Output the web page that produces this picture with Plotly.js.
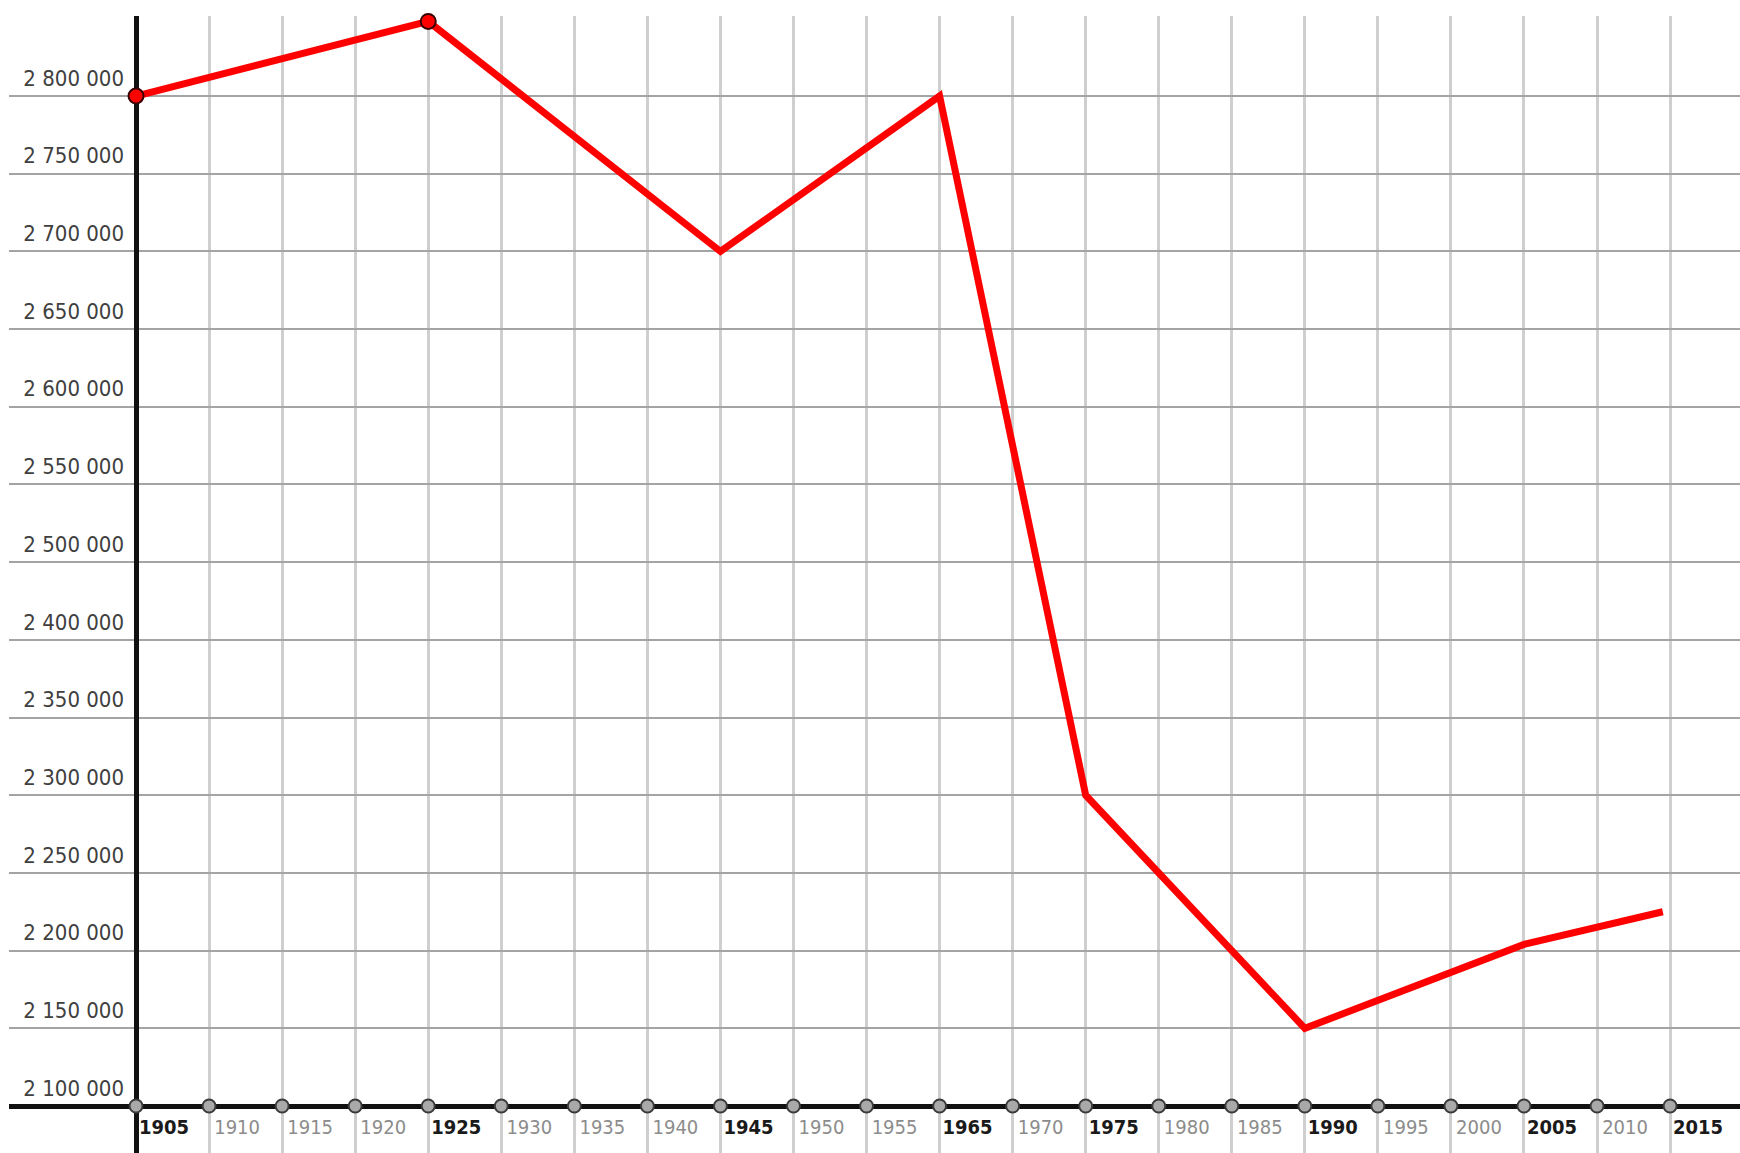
<!DOCTYPE html>
<html>
<head>
<meta charset="utf-8">
<script src="https://cdn.plot.ly/plotly-3.0.1.min.js"></script>
<style>
  html, body { margin: 0; padding: 0; background: #ffffff; }
  #chart { width: 1740px; height: 1153px; }
</style>
</head>
<body>
<div id="chart"></div>
<script>
// ---- Data ----
const years = [1905, 1925, 1945, 1965, 1975, 1990, 2005, 2014.5];
const population = [2800000, 2848000, 2700000, 2800000, 2300000, 2150000, 2204000, 2225000];
const pointMarked = [true, true, false, false, false, false, false, false];

// ---- Axis ticks ----
const xTickYears = [1905, 1910, 1915, 1920, 1925, 1930, 1935, 1940, 1945, 1950, 1955,
                    1965, 1970, 1975, 1980, 1985, 1990, 1995, 2000, 2005, 2010, 2015];
const xTickBold = [1905, 1925, 1945, 1965, 1975, 1990, 2005, 2015];
const yTickValues = [2800000, 2750000, 2700000, 2650000, 2600000, 2550000, 2500000,
                     2400000, 2350000, 2300000, 2250000, 2200000, 2150000, 2100000];
const yTickLabels = ['2 800 000', '2 750 000', '2 700 000', '2 650 000', '2 600 000',
                     '2 550 000', '2 500 000', '2 400 000', '2 350 000', '2 300 000',
                     '2 250 000', '2 200 000', '2 150 000', '2 100 000'];

// ---- Axis scales of the original chart (each has one break) ----
// x: 1960 is skipped, so 1955 -> 1965 takes a single tick step.
function xPos(year) {
  if (year <= 1955) return (year - 1905) / 5;
  if (year >= 1965) return (year - 1910) / 5;
  return 10 + (year - 1955) / 10;
}
// y: 2 450 000 is skipped, so 2 400 000 -> 2 500 000 takes a single grid step.
function yPos(v) {
  if (v <= 2400000) return (v - 2100000) / 50000;
  if (v >= 2500000) return (v - 2150000) / 50000;
  return 6 + (v - 2400000) / 100000;
}

const FONT = "'Liberation Sans Narrow', 'Arial Narrow', 'DejaVu Sans Condensed', sans-serif";

const xTickText = xTickYears.map(y =>
  xTickBold.includes(y)
    ? '<b><span style="color:#1a1a1a">' + y + '</span></b>'
    : '<span style="color:#8c8c8c">' + y + '</span>'
);

const baseY = yPos(yTickValues[yTickValues.length - 1]);

const traces = [
  {
    type: 'scatter',
    mode: 'markers',
    x: xTickYears.map(xPos),
    y: xTickYears.map(() => baseY),
    marker: { symbol: 'circle', size: 13, color: '#a9a9a9', line: { color: '#3a3a3a', width: 2 } },
    cliponaxis: false,
    hoverinfo: 'skip'
  },
  {
    type: 'scatter',
    mode: 'lines+markers',
    x: years.map(xPos),
    y: population.map(yPos),
    line: { color: '#ff0000', width: 7 },
    marker: {
      size: 15,
      color: '#ff0000',
      opacity: pointMarked.map(m => (m ? 1 : 0)),
      line: { color: '#3a0000', width: 2 }
    },
    cliponaxis: false,
    text: population.map(String),
    hoverinfo: 'text'
  }
];

const layout = {
  width: 1740,
  height: 1153,
  margin: { l: 9, r: 0, t: 16, b: 0, pad: 0 },
  paper_bgcolor: '#ffffff',
  plot_bgcolor: '#ffffff',
  showlegend: false,
  font: { family: FONT },
  xaxis: {
    type: 'linear',
    range: [-1.739, 21.957],
    tickmode: 'array',
    tickvals: xTickYears.map(xPos),
    ticktext: xTickText,
    showgrid: true,
    gridcolor: '#cfcfcf',
    gridwidth: 3,
    zeroline: true,
    zerolinecolor: '#111111',
    zerolinewidth: 5,
    showline: false,
    ticks: '',
    anchor: 'free',
    position: 0.0413,
    ticklabelshift: 28,
    ticklabelstandoff: 7,
    tickfont: { family: FONT, size: 20, color: '#8c8c8c' },
    fixedrange: true
  },
  yaxis: {
    type: 'linear',
    range: [-0.605, 14.03],
    tickmode: 'array',
    tickvals: yTickValues.map(yPos),
    ticktext: yTickLabels,
    showgrid: true,
    gridcolor: '#a4a4a4',
    gridwidth: 2,
    zeroline: true,
    zerolinecolor: '#111111',
    zerolinewidth: 5,
    showline: false,
    ticks: '',
    anchor: 'free',
    position: 0.0734,
    ticklabelshift: -18,
    ticklabelstandoff: 12,
    tickfont: { family: FONT, size: 22, color: '#404040' },
    fixedrange: true
  }
};

Plotly.newPlot('chart', traces, layout, { displayModeBar: false, staticPlot: true });
</script>
</body>
</html>
